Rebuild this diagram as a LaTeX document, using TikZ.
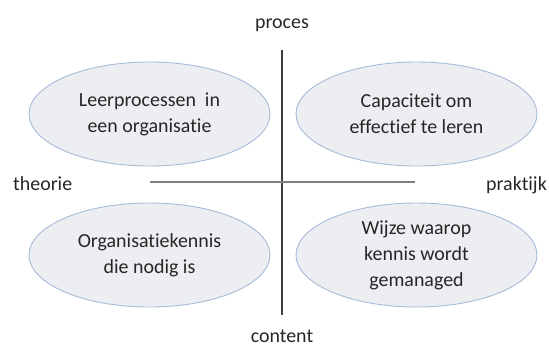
\documentclass[tikz,border=0pt]{standalone}
\usepackage{fontspec}
\setmainfont[RawFeature=-liga]{Carlito}
\usetikzlibrary{shapes.geometric}
\definecolor{ellfill}{HTML}{EDEEF2}
\definecolor{elldraw}{HTML}{A6BBD9}
\definecolor{txt}{HTML}{262626}
\definecolor{vline}{HTML}{404040}
\definecolor{hline}{HTML}{808080}
\begin{document}
\begin{tikzpicture}[x=1bp,y=-1bp,
  quad/.style={ellipse, draw=elldraw, fill=ellfill, line width=0.9bp,
    minimum width=241bp, minimum height=104bp, inner sep=0pt, align=center,
    text=txt, font=\fontsize{20}{26}\selectfont},
  axislabel/.style={text=txt, font=\fontsize{20}{24}\selectfont, inner sep=0pt},
  vaxis/.style={draw=vline, line width=1.5bp},
  haxis/.style={draw=hline, line width=1.5bp}]
\useasboundingbox (0,0) rectangle (549,352);
% axes
\coordinate (vtop) at (282,50);
\coordinate (vbot) at (282,315);
\coordinate (hleft) at (150,182);
\coordinate (hright) at (415,182);
\draw[vaxis] (vtop) -- (vbot);
\draw[haxis] (hleft) -- (hright);
% quadrants
\node[quad] (tl) at (149.5,114) {Leerprocessen\hspace{0.45em}in\\een organisatie};
\node[quad] (tr) at (416.5,114) {Capaciteit om\\effectief te leren};
\node[quad] (bl) at (149.5,255) {Organisatiekennis\\die nodig is};
\node[quad] (br) at (416.5,255) {Wijze waarop\\kennis wordt\\gemanaged};
% axis labels
\node[axislabel, anchor=base] (proces) at (282,28) {proces};
\node[axislabel, anchor=base] (content) at (282,342) {content};
\node[axislabel, anchor=base west] (theorie) at (13,190) {theorie};
\node[axislabel, anchor=base east] (praktijk) at (547,190) {praktijk};
\end{tikzpicture}
\end{document}
